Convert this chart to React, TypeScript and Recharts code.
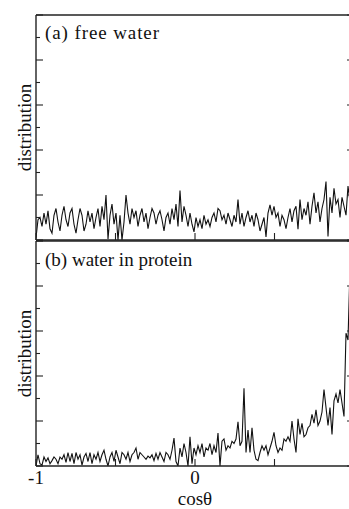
import React from 'react';
import { LineChart, Line, XAxis, YAxis } from 'recharts';

// bin centres span cosθ = -1 .. 1 in 160 equal bins
const BIN_COUNT = 160;
const X_TICKS = [-1, -0.5, 0, 0.5, 1];
const X_LABELLED = [-1, 0];
const Y_TICKS = [0, 0.5, 1, 1.5, 2, 2.5, 3, 3.5, 4, 4.5, 5];

const freeWater = [
  0.05, 0.45, 0.5, 0.3, 0.6, 0.35, 0.65, 0.25, 0.15, 0.55,
  0.7, 0.4, 0.2, 0.55, 0.75, 0.45, 0.3, 0.6, 0.7, 0.35,
  0.15, 0.45, 0.7, 0.55, 0.2, 0.35, 0.65, 0.4, 0.6, 0.25,
  0.5, 0.7, 0.3, 0.75, 0.45, 1.0, 0.02, 0.55, 0.8, 0.35,
  0.6, 0.0, 0.55, 0.0, 0.4, 1.0, 0.6, 0.35, 0.7, 0.5,
  0.65, 0.3, 0.55, 0.7, 0.4, 0.6, 0.25, 0.5, 0.7, 0.6,
  0.35, 0.55, 0.65, 0.45, 0.2, 0.5, 0.6, 0.35, 0.7, 0.45,
  0.8, 0.3, 1.1, 0.4, 0.75, 0.55, 0.3, 0.6, 0.35, 0.18,
  0.5, 0.3, 0.45, 0.25, 0.55, 0.35, 0.45, 0.3, 0.5, 0.6,
  0.4, 0.7, 0.65, 0.45, 0.55, 0.35, 0.6, 0.45, 0.3, 0.55,
  0.4, 0.9, 0.35, 0.6, 0.3, 0.5, 0.65, 0.4, 0.55, 0.3,
  0.6, 0.45, 0.2, 0.35, 0.5, 0.07, 0.6, 0.78, 0.55, 0.75,
  0.5, 0.6, 0.3, 0.55, 0.45, 0.25, 0.5, 0.7, 0.4, 0.65,
  0.75, 0.24, 0.9, 0.45, 0.7, 0.55, 0.85, 0.35, 0.75, 1.05,
  0.6, 0.85, 0.4, 0.7, 0.9, 1.3, 0.08, 0.95, 0.6, 1.15,
  0.8, 0.9, 0.5, 0.95, 0.75, 0.55, 1.2, 0.85, 1.0, 0.7,
];

const waterInProtein = [
  0.0, 0.25, 0.05, 0.02, 0.2, 0.1, 0.18, 0.05, 0.12, 0.2,
  0.15, 0.05, 0.2, 0.15, 0.25, 0.08, 0.3, 0.1, 0.28, 0.05,
  0.3, 0.15, 0.25, 0.02, 0.2, 0.28, 0.1, 0.3, 0.05, 0.25,
  0.15, 0.3, 0.1, 0.25, 0.35, 0.15, 0.0, 0.2, 0.3, 0.1,
  0.35, 0.2, 0.05, 0.3, 0.25, 0.15, 0.3, 0.1, 0.25, 0.3,
  0.4, 0.15, 0.3, 0.25, 0.2, 0.15, 0.22, 0.18, 0.25, 0.12,
  0.28, 0.15, 0.3, 0.2, 0.1, 0.3, 0.25, 0.15, 0.35, 0.62,
  0.1, 0.0, 0.4, 0.2, 0.5, 0.3, 0.0, 0.65, 0.05, 0.4,
  0.25, 0.45, 0.3, 0.5, 0.2, 0.4, 0.35, 0.5, 0.25, 0.45,
  0.3, 0.73, 0.0, 0.55, 0.6, 0.35, 0.45, 0.4, 0.55, 0.5,
  0.6, 0.98, 0.45, 0.55, 1.73, 0.3, 0.8, 0.3, 0.85, 0.35,
  0.15, 0.12, 0.3, 0.45, 0.35, 0.45, 0.25, 0.4, 0.55, 0.75,
  0.45, 0.3, 0.4, 0.35, 0.6, 0.55, 0.65, 0.55, 1.0, 0.6,
  0.3, 1.05, 0.7, 0.95, 0.65, 0.7, 0.85, 0.9, 1.15, 0.95,
  1.25, 0.9, 1.0, 1.2, 1.7, 1.3, 0.9, 1.3, 0.7, 1.45,
  1.6, 1.4, 1.7, 1.4, 1.1, 2.95, 2.8, 4.4, 4.6, 4.5,
];

const binX = (i: number) => -1 + (i * 2) / (BIN_COUNT - 1);
const dataA = freeWater.map((y, i) => ({ x: binX(i), y }));
const dataB = waterInProtein.map((y, i) => ({ x: binX(i), y }));

const FONT = '"Liberation Serif", "Times New Roman", serif';
const FRAME = '#222';
const FRAME_W = 1.4;
const TICK_W = 1.1;

const makeBottomTick = (showLabels: boolean) => (props: any) => {
  const { x, y, payload } = props;
  const v = payload.value;
  return (
    <g>
      <line x1={x} y1={y} x2={x} y2={y - 7} stroke={FRAME} strokeWidth={TICK_W} />
      {showLabels && X_LABELLED.includes(v) ? (
        <text x={x} y={y + 17.5} textAnchor="middle" fontFamily={FONT} fontSize={19} fill="#111">
          {String(v)}
        </text>
      ) : null}
    </g>
  );
};

const LeftTick = (props: any) => {
  const { x, y, payload } = props;
  const len = Number.isInteger(payload.value) ? 7 : 4;
  return <line x1={x} y1={y} x2={x + len} y2={y} stroke={FRAME} strokeWidth={TICK_W} />;
};

const RightTick = (props: any) => {
  const { x, y, payload } = props;
  const len = Number.isInteger(payload.value) ? 7 : 4;
  return <line x1={x} y1={y} x2={x - len} y2={y} stroke={FRAME} strokeWidth={TICK_W} />;
};

function Panel({ data, showLabels, height, margin }: { data: { x: number; y: number }[]; showLabels: boolean; height: number; margin: any }) {
  const axisCommon = {
    type: 'number' as const,
    dataKey: 'x',
    domain: [-1, 1] as [number, number],
    allowDataOverflow: true,
    height: 1,
    stroke: FRAME,
    tickSize: 0,
    tickMargin: 0,
    tickLine: false,
    interval: 0 as const,
    axisLine: { stroke: FRAME, strokeWidth: FRAME_W },
  };
  const yCommon = {
    type: 'number' as const,
    domain: [0, 5] as [number, number],
    allowDataOverflow: true,
    width: 1,
    stroke: FRAME,
    tickSize: 0,
    tickMargin: 0,
    tickLine: false,
    interval: 0 as const,
    ticks: Y_TICKS,
    axisLine: { stroke: FRAME, strokeWidth: FRAME_W },
  };
  return (
    <LineChart width={380} height={height} data={data} margin={margin}>
      <XAxis xAxisId="b" orientation="bottom" {...axisCommon} ticks={X_TICKS} tick={makeBottomTick(showLabels)} />
      <XAxis xAxisId="t" orientation="top" {...axisCommon} ticks={X_TICKS} tick={false} />
      <YAxis yAxisId="l" orientation="left" {...yCommon} tick={LeftTick} />
      <YAxis yAxisId="r" orientation="right" {...yCommon} tick={RightTick} />
      <Line
        xAxisId="b"
        yAxisId="l"
        type="linear"
        dataKey="y"
        stroke="#111"
        strokeWidth={1.1}
        dot={false}
        isAnimationActive={false}
      />
    </LineChart>
  );
}

export default function App() {
  const textStyle = { fontFamily: FONT, fontSize: 19, fill: '#111' };
  return (
    <div style={{ position: 'fixed', left: 0, top: 0, width: 349, height: 509, overflow: 'hidden', background: '#fff' }}>
      <div style={{ position: 'absolute', left: 0, top: 0 }}>
        <Panel data={dataA} showLabels={false} height={242} margin={{ top: 14, right: 25, left: 35, bottom: 1 }} />
      </div>
      <div style={{ position: 'absolute', left: 0, top: 226 }}>
        <Panel data={dataB} showLabels={true} height={283} margin={{ top: 14, right: 25, left: 35, bottom: 42 }} />
      </div>
      <svg width={349} height={509} style={{ position: 'absolute', left: 0, top: 0, pointerEvents: 'none' }}>
        <text x={45} y={39} textLength={114} lengthAdjust="spacing" style={textStyle}>(a) free water</text>
        <text x={45} y={266} style={textStyle}>(b) water in protein</text>
        <text transform="translate(31,127.5) rotate(-90)" textAnchor="middle" style={textStyle}>distribution</text>
        <text transform="translate(31,353.5) rotate(-90)" textAnchor="middle" style={textStyle}>distribution</text>
        <text x={195} y={505} textAnchor="middle" style={textStyle}>cosθ</text>
      </svg>
    </div>
  );
}
